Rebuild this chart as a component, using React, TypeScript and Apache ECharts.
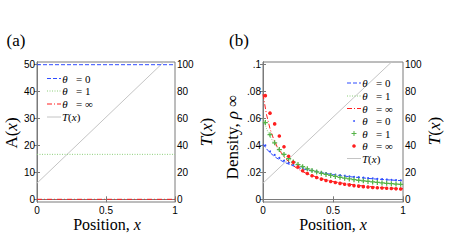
import React, { useEffect, useRef } from "react";
import * as echarts from "echarts";

// ---------- data ----------
const xEnds = [0, 1];
const levelsA = [50, 16.7, 0]; // A(x) for theta = 0, 1, inf
const tempX = [0, 1];
const tempY = [12, 110]; // T(x)

const xTheory = [0, 0.025, 0.05, 0.075, 0.1, 0.15, 0.2, 0.25, 0.3, 0.4, 0.5, 0.6, 0.7, 0.8, 0.9, 1.0];
const rhoLine0 = [0.041, 0.0375, 0.0347, 0.0324, 0.0305, 0.0276, 0.0254, 0.0236, 0.0222, 0.02, 0.0183, 0.017, 0.016, 0.0151, 0.0144, 0.0138];
const rhoLine1 = [0.06, 0.0525, 0.0468, 0.0423, 0.0386, 0.0331, 0.0291, 0.0261, 0.0237, 0.0202, 0.0176, 0.0157, 0.0142, 0.0129, 0.0119, 0.011];
const rhoLineInf = [0.078, 0.063, 0.0525, 0.045, 0.0393, 0.0315, 0.0262, 0.0225, 0.0197, 0.0158, 0.0132, 0.0114, 0.0101, 0.0091, 0.0084, 0.0079];

const xSim = [0.0167, 0.05, 0.0833, 0.1167, 0.15, 0.1833, 0.2167, 0.25, 0.2833, 0.3167, 0.35, 0.3833, 0.4167, 0.45, 0.4833, 0.5167, 0.55, 0.5833, 0.6167, 0.65, 0.6833, 0.7167, 0.75, 0.7833, 0.8167, 0.85, 0.8833, 0.9167, 0.95, 0.9833];
const rhoSim0 = [0.04, 0.0355, 0.033, 0.0307, 0.0287, 0.027, 0.0257, 0.0244, 0.0233, 0.0224, 0.0215, 0.0208, 0.0201, 0.0195, 0.0189, 0.0184, 0.0179, 0.0175, 0.0171, 0.0167, 0.0164, 0.0161, 0.0158, 0.0155, 0.0152, 0.015, 0.0147, 0.0145, 0.0143, 0.0141];
const rhoSim1 = [0.057, 0.048, 0.042, 0.037, 0.0333, 0.0302, 0.0277, 0.0258, 0.0242, 0.0227, 0.0214, 0.0203, 0.0193, 0.0185, 0.0177, 0.017, 0.0163, 0.0157, 0.0151, 0.0146, 0.0141, 0.0137, 0.0133, 0.0129, 0.0125, 0.0122, 0.0119, 0.0116, 0.0113, 0.0111];
const rhoSimInf = [0.077, 0.064, 0.056, 0.047, 0.039, 0.032, 0.0275, 0.024, 0.0212, 0.0192, 0.0175, 0.0162, 0.015, 0.014, 0.0132, 0.0125, 0.0118, 0.0112, 0.0107, 0.0102, 0.0098, 0.0094, 0.0091, 0.0088, 0.0086, 0.0084, 0.0082, 0.008, 0.0078, 0.0077];

const ticksA = [0, 10, 20, 30, 40, 50];
const ticksT = [0, 20, 40, 60, 80, 100];
const ticksRho = [0, 0.02, 0.04, 0.06, 0.08, 0.1];

const legendThetaLabels = ["0", "1", "\u221e"];

// ---------- styles ----------
const BLUE = "#2f4dff";
const GREEN = "#8ccf7a";
const RED = "#ff1f1f";
const GRAY = "#c4c4c4";
const AXIS = "#7a7a7a";
const SANS = "Liberation Sans, Arial, sans-serif";
const SERIF = "Liberation Serif, Times New Roman, serif";
const dashBlue = [4, 2];
const dotGreen = [1, 1.5];
const dashDotRed = [5, 2, 1, 2];
const PLUS = "path://M-1,-4H1V-1H4V1H1V4H-1V1H-4V-1H-1Z";

const zip = (xs: number[], ys: number[]) => xs.map((x, i) => [x, ys[i]]);

const rhoFmt = (v: number) => {
  if (Math.abs(v) < 1e-9) return "0";
  return String(+v.toFixed(2)).replace(/^0/, "");
};

function xAxes(grid: number) {
  const base = {
    gridIndex: grid,
    type: "value" as const,
    min: 0,
    max: 1,
    interval: 0.5,
    splitLine: { show: false },
    axisLine: { show: true, lineStyle: { color: AXIS, width: 1 } },
    axisTick: { show: true, inside: true, length: 3, lineStyle: { color: AXIS } },
  };
  return [
    {
      ...base,
      position: "bottom",
      axisLabel: { color: "#000", fontFamily: SANS, fontSize: 10, margin: 3 },
    },
    { ...base, position: "top", axisLabel: { show: false } },
  ];
}

function yAxis(grid: number, pos: "left" | "right", min: number, max: number, ticks: number[], fmt?: (v: number) => string) {
  return {
    gridIndex: grid,
    type: "value" as const,
    position: pos,
    min,
    max,
    splitLine: { show: false },
    axisLine: { show: true, lineStyle: { color: AXIS, width: 1 } },
    axisTick: { show: true, inside: true, length: 3, customValues: ticks, lineStyle: { color: AXIS } },
    axisLabel: {
      color: "#000",
      fontFamily: SANS,
      fontSize: 10,
      margin: 2,
      customValues: ticks,
      formatter: fmt ? fmt : (v: number) => String(Math.round(v)),
    },
  };
}

function lineSeries(xi: number, yi: number, data: number[][], color: string, dash: any, z = 3) {
  return {
    type: "line",
    xAxisIndex: xi,
    yAxisIndex: yi,
    data,
    symbol: "none",
    smooth: false,
    clip: true,
    z,
    lineStyle: { color, width: 1, type: dash },
  };
}

function scatterSeries(xi: number, yi: number, data: number[][], color: string, symbol: string, size: number) {
  return {
    type: "scatter",
    xAxisIndex: xi,
    yAxisIndex: yi,
    data,
    symbol,
    symbolSize: size,
    z: 4,
    itemStyle: { color, opacity: 1 },
  };
}

function legendLine(x1: number, x2: number, y: number, color: string, dash: any) {
  return {
    type: "line",
    shape: { x1, y1: y, x2, y2: y },
    style: { stroke: color, lineWidth: 1, lineDash: dash },
    z: 10,
  };
}

function thetaText(xTheta: number, xEq: number, y: number, val: string) {
  return [
    {
      type: "text",
      x: xTheta,
      y,
      style: { text: "\u03b8", font: `italic 11px ${SERIF}`, fill: "#000", align: "center", verticalAlign: "middle" },
      z: 10,
    },
    {
      type: "text",
      x: xEq,
      y,
      style: { text: "= " + val, font: `11px ${SERIF}`, fill: "#000", align: "left", verticalAlign: "middle" },
      z: 10,
    },
  ];
}

function tLegendText(x: number, y: number) {
  return {
    type: "text",
    x,
    y,
    style: {
      text: "{i|T}{n|(}{i|x}{n|)}",
      align: "left",
      verticalAlign: "middle",
      rich: {
        i: { fontFamily: SERIF, fontStyle: "italic", fontSize: 11, fill: "#000" },
        n: { fontFamily: SERIF, fontSize: 11, fill: "#000" },
      },
    },
    z: 10,
  };
}

function bigLabel(x: number, y: number, rich: string, rotate = false, size = 17) {
  return {
    type: "text",
    x,
    y,
    rotation: rotate ? Math.PI / 2 : 0,
    style: {
      text: rich,
      align: "center",
      verticalAlign: "middle",
      rich: {
        i: { fontFamily: SERIF, fontStyle: "italic", fontSize: size, fill: "#000" },
        n: { fontFamily: SERIF, fontSize: size, fill: "#000" },
      },
    },
    z: 10,
  };
}

export default function App() {
  const ref = useRef<HTMLDivElement>(null);

  useEffect(() => {
    document.body.style.margin = "0";
    if (!ref.current) return;
    const chart = echarts.init(ref.current, undefined, { renderer: "svg" });

    const thetaStyles = [
      { color: BLUE, dash: dashBlue },
      { color: GREEN, dash: dotGreen },
      { color: RED, dash: dashDotRed },
    ];

    const graphic: any[] = [];
    // Panel labels
    graphic.push(bigLabel(16, 40, "{n|(a)}"));
    graphic.push(bigLabel(239, 40, "{n|(b)}"));
    // Axis titles
    graphic.push(bigLabel(107, 224, "{n|Position, }{i|x}", false, 16));
    graphic.push(bigLabel(333, 224, "{n|Position, }{i|x}", false, 16));
    graphic.push(bigLabel(11, 133, "{n|A(}{i|x}{n|)}", true));
    graphic.push(bigLabel(206, 132, "{i|T}{n|(}{i|x}{n|)}", true));
    graphic.push(bigLabel(232, 137, "{n|Density, }{i|\u03c1}{n| \u221e}", true));
    graphic.push(bigLabel(434, 131, "{i|T}{n|(}{i|x}{n|)}", true));

    // Legend panel a
    const rowsA = [78.5, 91, 104, 117];
    thetaStyles.forEach((s, i) => {
      graphic.push(legendLine(47, 61, rowsA[i], s.color, s.dash));
      graphic.push(...thetaText(65, 76, rowsA[i], legendThetaLabels[i]));
    });
    graphic.push(legendLine(47, 61, rowsA[3], GRAY, null));
    graphic.push(tLegendText(62, rowsA[3]));

    // Legend panel b
    const rowsB = [83, 96, 108.5, 121, 133.5, 146, 158.5];
    thetaStyles.forEach((s, i) => {
      graphic.push(legendLine(347, 361, rowsB[i], s.color, s.dash));
      graphic.push(...thetaText(365, 376, rowsB[i], legendThetaLabels[i]));
    });
    // marker rows
    graphic.push({ type: "circle", shape: { cx: 354, cy: rowsB[3], r: 0.9 }, style: { fill: BLUE }, z: 10 });
    graphic.push({
      type: "polygon",
      shape: {
        points: [
          [353.5, rowsB[4] - 2.5], [354.5, rowsB[4] - 2.5], [354.5, rowsB[4] - 0.5], [356.5, rowsB[4] - 0.5],
          [356.5, rowsB[4] + 0.5], [354.5, rowsB[4] + 0.5], [354.5, rowsB[4] + 2.5], [353.5, rowsB[4] + 2.5],
          [353.5, rowsB[4] + 0.5], [351.5, rowsB[4] + 0.5], [351.5, rowsB[4] - 0.5], [353.5, rowsB[4] - 0.5],
        ],
      },
      style: { fill: "#55b347" },
      z: 10,
    });
    graphic.push({ type: "circle", shape: { cx: 354, cy: rowsB[5], r: 1.8 }, style: { fill: RED }, z: 10 });
    for (let i = 0; i < 3; i++) graphic.push(...thetaText(365, 376, rowsB[3 + i], legendThetaLabels[i]));
    graphic.push(legendLine(347, 361, rowsB[6], GRAY, null));
    graphic.push(tLegendText(362, rowsB[6]));

    const gridBox = { show: true, borderColor: AXIS, borderWidth: 1, backgroundColor: "transparent", containLabel: false };

    const option: any = {
      animation: false,
      backgroundColor: "#fff",
      grid: [
        { ...gridBox, left: 37, top: 62, width: 138, height: 140 },
        { ...gridBox, left: 263, top: 62, width: 140, height: 140 },
      ],
      xAxis: [...xAxes(0), ...xAxes(1)],
      yAxis: [
        yAxis(0, "left", -1, 51, ticksA),
        yAxis(0, "right", -2, 102, ticksT),
        yAxis(1, "left", -0.002, 0.102, ticksRho, rhoFmt),
        yAxis(1, "right", -2, 102, ticksT),
      ],
      series: [
        // panel a
        lineSeries(1, 1, zip(tempX, tempY), GRAY, "solid", 2),
        lineSeries(0, 0, zip(xEnds, [levelsA[0], levelsA[0]]), BLUE, dashBlue),
        lineSeries(0, 0, zip(xEnds, [levelsA[1], levelsA[1]]), GREEN, dotGreen),
        lineSeries(0, 0, zip(xEnds, [levelsA[2], levelsA[2]]), RED, dashDotRed),
        // panel b
        lineSeries(3, 3, zip(tempX, tempY), GRAY, "solid", 2),
        lineSeries(2, 2, zip(xTheory, rhoLine0), BLUE, dashBlue),
        lineSeries(2, 2, zip(xTheory, rhoLine1), GREEN, dotGreen),
        lineSeries(2, 2, zip(xTheory, rhoLineInf), RED, dashDotRed),
        scatterSeries(2, 2, zip(xSim, rhoSim0), BLUE, "circle", 2),
        scatterSeries(2, 2, zip(xSim, rhoSim1), "#55b347", PLUS, 5),
        scatterSeries(2, 2, zip(xSim, rhoSimInf), RED, "circle", 3.6),
      ],
      graphic,
    };

    chart.setOption(option);
    return () => chart.dispose();
  }, []);

  return (
    <div
      ref={ref}
      style={{ position: "fixed", left: 0, top: 0, width: 463, height: 244, background: "#fff" }}
    />
  );
}
